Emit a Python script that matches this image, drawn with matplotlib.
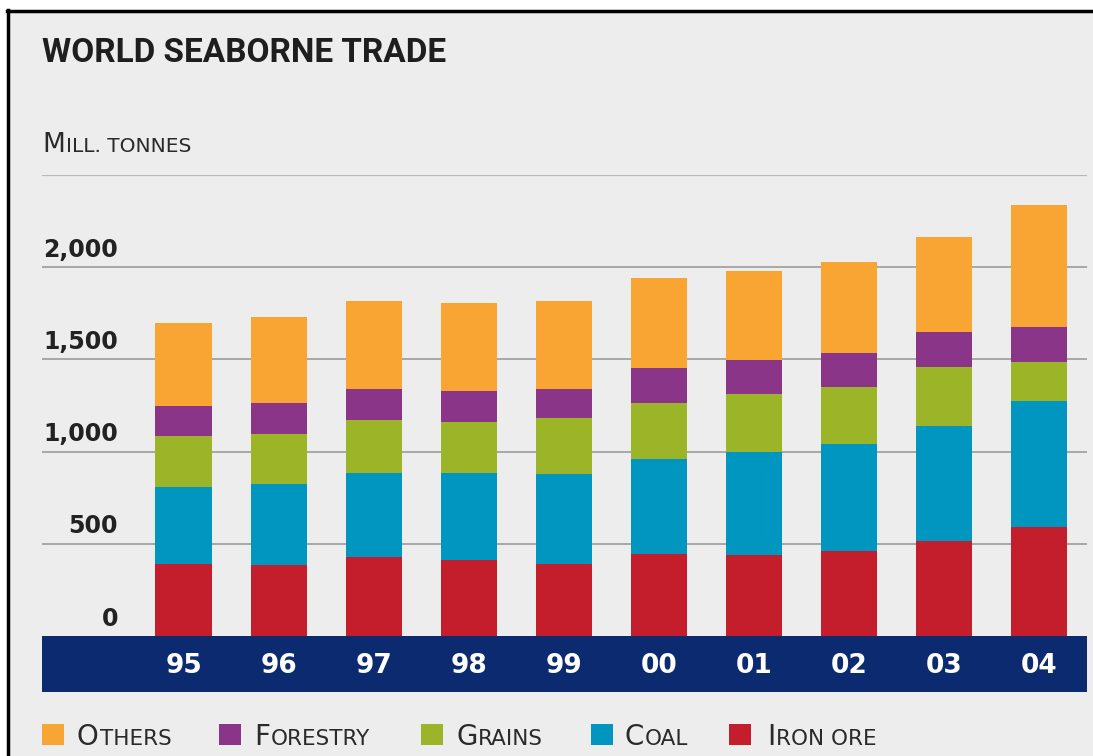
import matplotlib
matplotlib.use("Agg")
import matplotlib.pyplot as plt
import matplotlib.transforms as mtransforms
from matplotlib.patches import Rectangle
from matplotlib.lines import Line2D
import numpy as np

years = ["95", "96", "97", "98", "99", "00", "01", "02", "03", "04"]
iron_ore = [393, 384, 426, 413, 392, 446, 437, 460, 514, 590]
coal = [414, 438, 457, 470, 489, 515, 560, 579, 624, 683]
grains = [275, 276, 287, 276, 299, 304, 318, 309, 322, 214]
forestry = [163, 167, 171, 172, 161, 186, 181, 189, 190, 190]
others = [455, 464, 473, 474, 473, 492, 481, 490, 516, 659]

series = [
    ("Iron ore", iron_ore, "#C41E2D"),
    ("Coal", coal, "#0096BF"),
    ("Grains", grains, "#9CB428"),
    ("Forestry", forestry, "#8B3589"),
    ("Others", others, "#F9A533"),
]
yticks = [0, 500, 1000, 1500, 2000]
ytick_labels = ["0", "500", "1,000", "1,500", "2,000"]

BG = "#EDEDED"
NAVY = "#0B2A6F"
W, H = 1093, 756

fig = plt.figure(figsize=(W / 100, H / 100), dpi=100, facecolor=BG)

def fx(px):
    return px / W

def fy(py):
    return 1 - py / H

# white margin + black frame on top and left
fig.add_artist(Rectangle((0, fy(10)), 1, 10 / H, transform=fig.transFigure,
                         facecolor="white", edgecolor="none", zorder=-5))
fig.add_artist(Rectangle((0, 0), fx(7), 1, transform=fig.transFigure,
                         facecolor="white", edgecolor="none", zorder=-5))
fig.add_artist(Line2D([fx(7), 1], [fy(10.5), fy(10.5)], transform=fig.transFigure,
                      color="black", lw=2.5, zorder=-4))
fig.add_artist(Line2D([fx(8), fx(8)], [0, fy(10)], transform=fig.transFigure,
                      color="black", lw=2.5, zorder=-4))

# navy band under the bars
fig.add_artist(Rectangle((fx(42), fy(692)), fx(1087) - fx(42), (692 - 636) / H,
                         transform=fig.transFigure, facecolor=NAVY,
                         edgecolor="none", zorder=-3))

ax = fig.add_axes([fx(42), fy(636), fx(1087) - fx(42), fy(175) - fy(636)])
ax.set_facecolor("none")
x = np.arange(len(years))
bottom = np.zeros(len(years))
for name, vals, col in series:
    ax.bar(x, vals, bottom=bottom, width=0.59, color=col, edgecolor="none", zorder=3)
    bottom += np.array(vals)

ax.set_xlim(-1.489, 9.505)
ax.set_ylim(0, 2500)
for v in [500, 1000, 1500, 2000, 2500]:
    ax.axhline(v, color="#9C9C9C" if v < 2500 else "#B8B8B8",
               lw=1.2 if v < 2500 else 1.6, zorder=1)
for s in ax.spines.values():
    s.set_visible(False)
ax.set_yticks([])
ax.set_xticks(x)
ax.set_xticklabels(years, color="white", fontsize=19, fontweight="bold")
ax.tick_params(axis="x", length=0, pad=12)

ytrans = mtransforms.blended_transform_factory(ax.transAxes, ax.transData)
for v, lab in zip(yticks, ytick_labels):
    ax.annotate(lab, xy=((118 - 42) / 1045, v), xycoords=ytrans,
                xytext=(0, 7.5), textcoords="offset points",
                ha="right", va="baseline", fontsize=17, fontweight="bold",
                color="#222222", annotation_clip=False)

fig.text(fx(42), fy(62), "WORLD SEABORNE TRADE", fontsize=24, fontweight="bold",
         family=["Roboto", "DejaVu Sans"], color="#1E1E1E",
         va="baseline", ha="left")

renderer = fig.canvas.get_renderer()


def smallcaps(px, py, parts, big, small, color="#2A2A2A"):
    # first letter large, rest smaller, sharing one baseline
    first = fig.text(fx(px), fy(py), parts[0], fontsize=big, color=color,
                     va="baseline", ha="left")
    bb = first.get_window_extent(renderer)
    fig.text(bb.x1 / W + 1.0 / W, fy(py), parts[1], fontsize=small, color=color,
             va="baseline", ha="left")


# unit label in small caps
smallcaps(42, 152, ["M", "ILL. TONNES"], 19, 14.5)

# legend
legend_items = [
    ("O", "THERS", "#F9A533", 42, 77),
    ("F", "ORESTRY", "#8B3589", 219, 254),
    ("G", "RAINS", "#9CB428", 421, 456),
    ("C", "OAL", "#0096BF", 591, 624),
    ("I", "RON ORE", "#C41E2D", 729, 767),
]
for big, rest, col, sx, tx in legend_items:
    fig.add_artist(Rectangle((fx(sx), fy(745)), 22 / W, 21 / H,
                             transform=fig.transFigure, facecolor=col,
                             edgecolor="none"))
    smallcaps(tx, 745, [big, rest], 20, 15.5)

fig.savefig("out.png", dpi=100, facecolor=BG)
